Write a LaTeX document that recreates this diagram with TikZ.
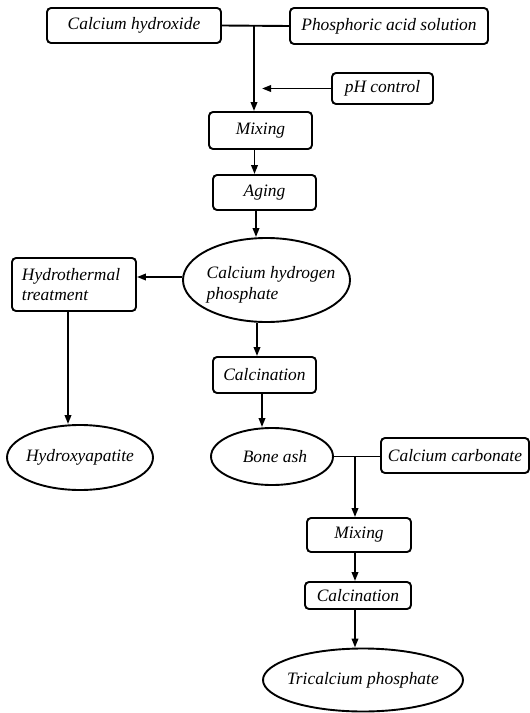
\documentclass[tikz,border=0pt]{standalone}
\usepackage{fontspec}
\setmainfont{Liberation Serif}
\usetikzlibrary{arrows.meta,shapes.geometric,calc}
\begin{document}
\begin{tikzpicture}[x=1bp,y=-1bp,
 lbl/.style={font=\fontsize{17.5}{21}\selectfont\itshape,inner sep=0pt},
 procbox/.style={lbl,draw,line width=1.9bp,rounded corners=4bp},
 prodell/.style={draw,ellipse,line width=1.9bp,inner sep=0pt},
 arr/.style={line width=1.9bp,-{Triangle[length=9bp,width=6.5bp]}},
 ln/.style={line width=1.9bp}]
\path[use as bounding box] (0,0) rectangle (530,713);
\fill[white] (0,0) rectangle (530,713);

% boxes
\node[procbox,minimum width=174bp,minimum height=35bp] (ch) at (134,25.5) {Calcium hydroxide};
\node[procbox,minimum width=198bp,minimum height=36bp] (pa) at (389,26) {Phosphoric acid solution};
\node[procbox,minimum width=101bp,minimum height=31bp] (ph) at (382.5,88.5) {pH control};
\node[procbox,minimum width=103bp,minimum height=37bp] (mix1) at (260.5,130.5) {Mixing};
\node[procbox,minimum width=103bp,minimum height=35bp] (aging) at (264.5,192.5) {Aging};
\node[procbox,minimum width=124bp,minimum height=53bp,text width=104bp,align=left] (hyd) at (74,284.5) {Hydrothermal\\treatment};
\node[procbox,minimum width=103bp,minimum height=36bp] (calc1) at (264.5,375) {Calcination};
\node[procbox,minimum width=148bp,minimum height=35bp] (cc) at (455,455.5) {Calcium carbonate};
\node[procbox,minimum width=104bp,minimum height=34bp] (mix2) at (359,535) {Mixing};
\node[procbox,minimum width=106bp,minimum height=27bp] (calc2) at (358,595.5) {Calcination};

% ellipses
\node[prodell,minimum width=167bp,minimum height=84bp] (chp) at (266.5,280) {};
\node[lbl,align=left] (chpt) at (271,285) {Calcium hydrogen\\phosphate};
\node[prodell,minimum width=146bp,minimum height=65bp] (hap) at (80,457.5) {};
\node[lbl] (hapt) at (80,457.5) {Hydroxyapatite};
\node[prodell,minimum width=122bp,minimum height=57bp] (ba) at (272,456.5) {};
\node[lbl] (bat) at (275,456.5) {Bone ash};
\node[prodell,minimum width=200bp,minimum height=63bp] (tcp) at (363,680) {};
\node[lbl] (tcpt) at (363,680) {Tricalcium phosphate};

% connectors
\draw[ln] (ch.east) -- (pa.west);
\coordinate (j1) at (254,25.5);
\draw[arr] (j1) -- (j1 |- mix1.north);
\coordinate (p1) at (262,88.5);
\draw[arr] (ph.west) -- (p1);
\draw[arr] ([xshift=-6bp]mix1.south) -- ([xshift=-6bp]mix1.south |- aging.north);
\draw[arr] ([xshift=-8.5bp]aging.south) -- ([xshift=-8.5bp]aging.south |- chp.north);
\draw[arr] ([yshift=3bp]chp.west) -- ([yshift=3bp]chp.west -| hyd.east);
\draw[arr] ([xshift=-6bp]hyd.south) -- ([xshift=-6bp]hyd.south |- hap.north);
\draw[arr] ([xshift=-9.5bp]chp.south) -- ([xshift=-9.5bp]chp.south |- calc1.north);
\draw[arr] ([xshift=-2.5bp]calc1.south) -- ([xshift=-2.5bp]calc1.south |- ba.north);
\draw[ln] (ba.east) -- (ba.east -| cc.west);
\coordinate (j2) at (355,456.5);
\draw[arr] (j2) -- (j2 |- mix2.north);
\draw[arr] ([xshift=-4bp]mix2.south) -- ([xshift=-4bp]mix2.south |- calc2.north);
\draw[arr] ([xshift=-3bp]calc2.south) -- ([xshift=-3bp]calc2.south |- tcp.north);
\end{tikzpicture}
\end{document}
